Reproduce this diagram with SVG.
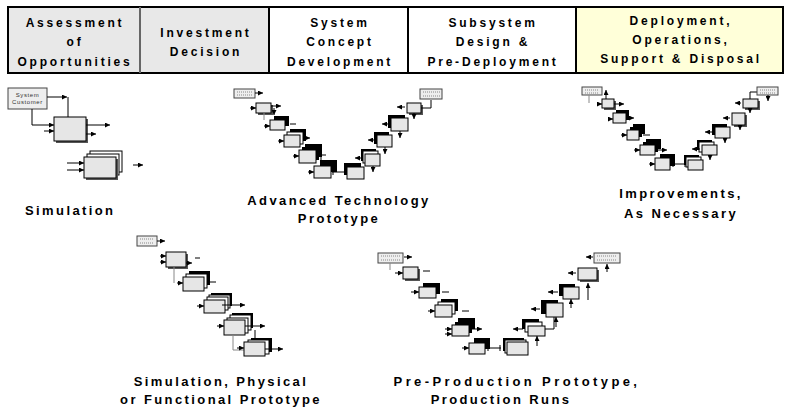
<svg xmlns="http://www.w3.org/2000/svg" width="787" height="410" viewBox="0 0 787 410">
<style>
.hd{font-family:"Liberation Sans",Arial,sans-serif;font-weight:bold;font-size:12px;letter-spacing:2.8px;text-anchor:middle;fill:#000}
.lb{font-family:"Liberation Sans",Arial,sans-serif;font-weight:bold;font-size:13px;letter-spacing:2.4px;fill:#000}
.m{text-anchor:middle}
.bx{fill:#e6e6e6;stroke:#000;stroke-width:1}
.wb{fill:#fff;stroke:#000;stroke-width:1}
.bk{fill:#000}
.sh{fill:#555}
.cu{fill:#eeeeee;stroke:#444;stroke-width:1}
.ln{stroke:#000;stroke-width:1;fill:none}
.gl{stroke:#888;stroke-width:1;fill:none}
.ar{stroke:#000;stroke-width:1;fill:none;marker-end:url(#ah)}
.dt{stroke:#888;stroke-width:1;stroke-dasharray:1 1;fill:none}
.tiny{font-family:"Liberation Sans",Arial,sans-serif;font-size:6px;fill:#333;text-anchor:middle;letter-spacing:0.6px}
</style>
<defs>
<marker id="ah" viewBox="0 0 6 6" refX="6" refY="3" markerWidth="5" markerHeight="5" orient="auto"><path d="M0,0L6,3L0,6z" fill="#000"/></marker>
</defs>
<rect width="787" height="410" fill="#fff"/>

<g id="header">
<rect x="8" y="7" width="132" height="66" fill="#e8e8e8"/>
<rect x="140" y="7" width="129" height="66" fill="#e8e8e8"/>
<rect x="269" y="7" width="139" height="66" fill="#fff"/>
<rect x="408" y="7" width="168" height="66" fill="#fff"/>
<rect x="576" y="7" width="207" height="66" fill="#ffffd9"/>
<rect x="8" y="7" width="775" height="66" fill="none" stroke="#000" stroke-width="2"/>
<line x1="140" y1="7" x2="140" y2="73" stroke="#666" stroke-width="2"/>
<line x1="269" y1="7" x2="269" y2="73" stroke="#000" stroke-width="2"/>
<line x1="408" y1="7" x2="408" y2="73" stroke="#000" stroke-width="2"/>
<line x1="576" y1="7" x2="576" y2="73" stroke="#000" stroke-width="2"/>
<text class="hd" x="75" y="27">Assessment</text>
<text class="hd" x="75" y="46">of</text>
<text class="hd" x="75" y="66">Opportunities</text>
<text class="hd" x="206" y="37">Investment</text>
<text class="hd" x="206" y="56">Decision</text>
<text class="hd" x="340" y="27">System</text>
<text class="hd" x="340" y="46">Concept</text>
<text class="hd" x="340" y="66">Development</text>
<text class="hd" x="493" y="27">Subsystem</text>
<text class="hd" x="493" y="46">Design &amp;</text>
<text class="hd" x="493" y="66">Pre-Deployment</text>
<text class="hd" x="681" y="25">Deployment,</text>
<text class="hd" x="681" y="44">Operations,</text>
<text class="hd" x="681" y="63">Support &amp; Disposal</text>
</g>

<g id="simulation">
<rect class="cu" x="8" y="88" width="39" height="21"/>
<text class="tiny" x="27.5" y="97">System</text>
<text class="tiny" x="27.5" y="104">Customer</text>
<path class="ln" d="M68,117V97"/>
<path class="ar" d="M47,97H67"/>
<path class="ln" d="M32,109V125"/>
<path class="ar" d="M32,125H54"/>
<path class="ar" d="M44,131H54"/>
<rect class="sh" x="56" y="119" width="32" height="24"/>
<rect class="bx" x="54" y="117" width="32" height="24"/>
<path class="ar" d="M86,125H110"/>
<path class="ar" d="M86,134H96"/>
<rect class="wb" x="90" y="151" width="32" height="21"/>
<rect class="wb" x="87" y="154" width="32" height="21"/>
<rect class="sh" x="86" y="159" width="32" height="21"/>
<rect class="bx" x="84" y="157" width="32" height="21"/>
<path class="ar" d="M67,163H84"/>
<path class="ar" d="M67,170H84"/>
<path class="ar" d="M133,165H143"/>
<text class="lb" x="25" y="215">Simulation</text>
</g>

<g id="adv-tech">
<rect class="cu" x="234" y="89" width="21" height="9"/>
<path class="dt" d="M237,92H252M237,95H252"/>
<path class="ar" d="M255,93H263"/>
<rect class="sh" x="258" y="105" width="15" height="10"/>
<rect class="bx" x="256" y="103" width="15" height="10"/>
<path class="ar" d="M250,108H256"/>
<path class="ar" d="M271,106H281"/>
<path class="ar" d="M274,108V115"/>
<path class="gl" d="M264,113V120"/>
<rect class="bk" x="274" y="116" width="15" height="10"/>
<rect class="bx" x="270" y="120" width="15" height="10"/>
<path class="ar" d="M264,126H270"/>
<path class="ln" d="M290,124H296"/>
<rect class="bk" x="290" y="129" width="16" height="12"/>
<rect class="wb" x="287" y="132" width="16" height="12"/>
<rect class="bx" x="284" y="135" width="16" height="12"/>
<path class="ar" d="M278,141H284"/>
<path class="ar" d="M304,138H310"/>
<rect class="bk" x="305" y="144" width="17" height="13"/>
<rect class="bk" x="302" y="147" width="17" height="13"/>
<rect class="bx" x="299" y="150" width="17" height="13"/>
<path class="ar" d="M293,156H299"/>
<path class="ln" d="M320,155H326M321,150V160"/>
<rect class="bk" x="320" y="160" width="17" height="12"/>
<rect class="bx" x="314" y="166" width="17" height="12"/>
<path class="ar" d="M308,172H314"/>
<path class="ln" d="M332,172H346M333,169V175M345,169V175"/>
<rect class="bk" x="344" y="163" width="17" height="12"/>
<rect class="bx" x="347" y="167" width="17" height="12"/>
<rect class="bk" x="361" y="149" width="15" height="12"/>
<rect class="wb" x="363" y="151" width="15" height="12"/>
<rect class="bx" x="365" y="154" width="15" height="12"/>
<path class="ar" d="M362,158H355"/>
<path class="ar" d="M373,166V172"/>
<rect class="bk" x="374" y="132" width="15" height="12"/>
<rect class="bx" x="377" y="135" width="15" height="12"/>
<path class="ar" d="M376,140H368"/>
<path class="ar" d="M385,147V154"/>
<rect class="bk" x="388" y="115" width="17" height="13"/>
<rect class="bx" x="391" y="118" width="17" height="13"/>
<path class="ar" d="M390,124H382"/>
<path class="ar" d="M400,131V138"/>
<rect class="sh" x="409" y="105" width="14" height="10"/>
<rect class="bx" x="407" y="103" width="14" height="10"/>
<path class="ar" d="M405,107H397"/>
<path class="ar" d="M414,113V119"/>
<path class="ln" d="M421,108H431V100"/>
<path class="ar" d="M426,96H420"/>
<rect class="cu" x="420" y="89" width="22" height="10"/>
<path class="dt" d="M423,92H440M423,96H440"/>
<text class="lb m" x="339" y="205">Advanced Technology</text>
<text class="lb m" x="339" y="223">Prototype</text>
</g>

<g id="improvements">
<rect class="cu" x="582" y="87" width="20" height="8"/>
<path class="dt" d="M585,90H599M585,93H599"/>
<path class="gl" d="M589,95V103"/>
<path class="ar" d="M606,103V90"/>
<rect class="sh" x="604" y="101" width="12" height="9"/>
<rect class="bx" x="602" y="99" width="12" height="9"/>
<path class="ar" d="M597,104H602"/>
<path class="ar" d="M614,104H624"/>
<rect class="bk" x="616" y="110" width="13" height="10"/>
<rect class="bx" x="613" y="113" width="13" height="10"/>
<path class="ar" d="M608,119H613"/>
<path class="ar" d="M628,118H634"/>
<rect class="bk" x="633" y="124" width="12" height="10"/>
<rect class="bk" x="630" y="127" width="12" height="10"/>
<rect class="bx" x="627" y="130" width="12" height="10"/>
<path class="ar" d="M621,135H627"/>
<path class="ln" d="M643,135H650"/>
<rect class="bk" x="646" y="139" width="15" height="10"/>
<rect class="bk" x="643" y="142" width="15" height="10"/>
<rect class="bx" x="640" y="145" width="15" height="10"/>
<path class="ar" d="M634,150H640"/>
<path class="ar" d="M657,150H667"/>
<rect class="bk" x="660" y="154" width="15" height="12"/>
<rect class="bx" x="655" y="158" width="15" height="12"/>
<path class="ar" d="M649,164H655"/>
<path class="ln" d="M672,164H686M673,161V167M685,161V167"/>
<rect class="bk" x="684" y="155" width="15" height="10"/>
<rect class="wb" x="686" y="157" width="15" height="10"/>
<rect class="bx" x="688" y="160" width="15" height="10"/>
<rect class="bk" x="697" y="140" width="15" height="10"/>
<rect class="wb" x="699" y="142" width="15" height="10"/>
<rect class="bx" x="702" y="145" width="15" height="10"/>
<path class="ar" d="M700,149H692"/>
<path class="ar" d="M710,155V160"/>
<rect class="bk" x="712" y="124" width="15" height="11"/>
<rect class="bx" x="715" y="127" width="15" height="11"/>
<path class="ar" d="M713,132H705"/>
<path class="ar" d="M725,138V143"/>
<rect class="sh" x="734" y="115" width="13" height="12"/>
<rect class="bx" x="732" y="113" width="13" height="12"/>
<path class="ar" d="M730,118H723"/>
<path class="ar" d="M740,125V130"/>
<rect class="sh" x="745" y="101" width="15" height="9"/>
<rect class="bx" x="743" y="99" width="15" height="9"/>
<path class="ar" d="M741,103H735"/>
<path class="ar" d="M750,108V113"/>
<path class="ln" d="M750,99V92H757"/>
<rect class="cu" x="757" y="87" width="21" height="8"/>
<path class="dt" d="M760,90H775M760,93H775"/>
<path class="ar" d="M768,95V101"/>
<text class="lb m" x="681" y="198">Improvements,</text>
<text class="lb m" x="681" y="218">As Necessary</text>
</g>

<g id="sim-physical">
<rect class="cu" x="137" y="236" width="20" height="10"/>
<path class="dt" d="M140,239H154M140,243H154"/>
<path class="ar" d="M157,241H165"/>
<rect class="sh" x="168" y="254" width="20" height="15"/>
<rect class="bx" x="166" y="252" width="20" height="15"/>
<path class="ar" d="M160,256H166"/>
<path class="ar" d="M160,262H166"/>
<path class="ar" d="M186,263H192"/>
<path class="ln" d="M195,258H200"/>
<path class="gl" d="M174,267V283"/>
<rect class="bk" x="189" y="271" width="21" height="14"/>
<rect class="wb" x="186" y="274" width="21" height="14"/>
<rect class="bx" x="183" y="277" width="21" height="14"/>
<path class="ar" d="M177,283H183"/>
<path class="ln" d="M209,282H216"/>
<rect class="bk" x="211" y="293" width="21" height="13"/>
<rect class="wb" x="209" y="295" width="21" height="13"/>
<rect class="wb" x="207" y="297" width="21" height="13"/>
<rect class="bx" x="204" y="300" width="21" height="13"/>
<path class="ar" d="M197,306H204"/>
<path class="ar" d="M222,305H245"/>
<rect class="bk" x="232" y="313" width="21" height="15"/>
<rect class="wb" x="230" y="315" width="21" height="15"/>
<rect class="wb" x="227" y="318" width="21" height="15"/>
<rect class="bx" x="224" y="320" width="21" height="15"/>
<path class="ar" d="M217,326H224"/>
<path class="ar" d="M245,326H265"/>
<path class="gl" d="M233,335V350H244"/>
<path class="ln" d="M255,330V340"/>
<rect class="bk" x="251" y="338" width="21" height="14"/>
<rect class="wb" x="248" y="340" width="21" height="14"/>
<rect class="bx" x="244" y="342" width="21" height="14"/>
<path class="ar" d="M237,348H244"/>
<path class="ar" d="M265,349H283"/>
<text class="lb m" x="221" y="386">Simulation, Physical</text>
<text class="lb m" x="221" y="404">or Functional Prototype</text>
</g>

<g id="pre-production">
<rect class="cu" x="378" y="253" width="25" height="10"/>
<path class="dt" d="M381,256H400M381,260H400"/>
<path class="ar" d="M404,257H412"/>
<path class="gl" d="M390,263V270"/>
<rect class="sh" x="405" y="269" width="15" height="12"/>
<rect class="bx" x="403" y="267" width="15" height="12"/>
<path class="ar" d="M395,273H403"/>
<path class="ln" d="M423,271H430"/>
<rect class="bk" x="423" y="283" width="17" height="11"/>
<rect class="bx" x="419" y="287" width="17" height="11"/>
<path class="ar" d="M411,292H419"/>
<path class="ln" d="M442,292H449"/>
<rect class="bk" x="441" y="299" width="17" height="12"/>
<rect class="wb" x="438" y="302" width="17" height="12"/>
<rect class="bx" x="435" y="305" width="17" height="12"/>
<path class="ar" d="M428,311H435"/>
<path class="ln" d="M462,311H469"/>
<rect class="bk" x="458" y="318" width="17" height="11"/>
<rect class="bk" x="455" y="322" width="17" height="11"/>
<rect class="bx" x="452" y="325" width="17" height="11"/>
<path class="ar" d="M445,329H452"/>
<path class="ar" d="M445,334H452"/>
<path class="ar" d="M470,329H482"/>
<rect class="bk" x="474" y="338" width="16" height="11"/>
<rect class="bx" x="469" y="343" width="16" height="11"/>
<path class="ar" d="M462,348H469"/>
<path class="ln" d="M487,348H501M488,345V351M500,345V351"/>
<rect class="bk" x="503" y="338" width="21" height="13"/>
<rect class="wb" x="505" y="340" width="21" height="13"/>
<rect class="bx" x="507" y="342" width="21" height="13"/>
<rect class="bk" x="522" y="319" width="17" height="10"/>
<rect class="wb" x="525" y="322" width="17" height="10"/>
<rect class="bx" x="528" y="326" width="17" height="10"/>
<path class="ar" d="M523,329H513"/>
<path class="ar" d="M537,346V336"/>
<path class="ln" d="M545,329H554V317"/>
<rect class="bk" x="541" y="300" width="17" height="14"/>
<rect class="bx" x="546" y="303" width="17" height="14"/>
<path class="ar" d="M540,309H531"/>
<path class="ar" d="M556,327V317"/>
<rect class="bk" x="559" y="284" width="16" height="12"/>
<rect class="bx" x="563" y="287" width="16" height="12"/>
<path class="ar" d="M558,292H548"/>
<path class="ar" d="M571,308V299"/>
<rect class="sh" x="580" y="270" width="19" height="12"/>
<rect class="bx" x="578" y="268" width="19" height="12"/>
<path class="ar" d="M576,273H568"/>
<path class="ar" d="M588,300V283"/>
<rect class="cu" x="594" y="253" width="26" height="10"/>
<path class="dt" d="M597,256H617M597,260H617"/>
<path class="ar" d="M593,257H586"/>
<path class="ar" d="M607,272V264"/>
<text class="lb m" x="517" y="386" style="letter-spacing:3.4px">Pre-Production Prototype,</text>
<text class="lb m" x="501" y="404">Production Runs</text>
</g>
</svg>
